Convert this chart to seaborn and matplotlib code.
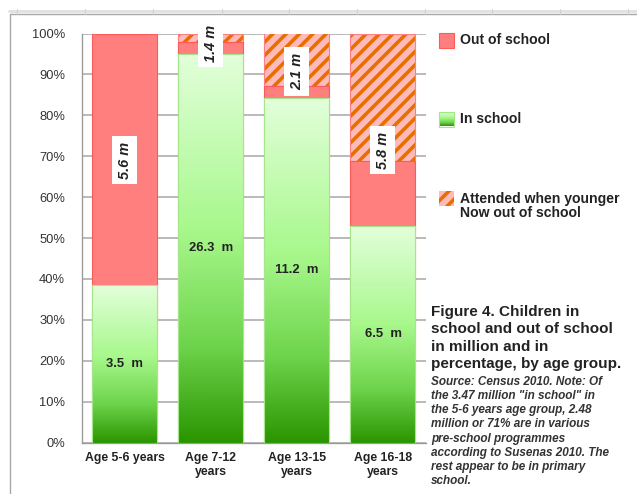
import numpy as np
import pandas as pd
import matplotlib
matplotlib.use("Agg")
import matplotlib.pyplot as plt
from matplotlib.colors import LinearSegmentedColormap
from matplotlib.patches import Rectangle
from matplotlib.lines import Line2D
import seaborn as sns

# ---- data (millions of children) ----
age_groups = ["Age 5-6 years", "Age 7-12\nyears", "Age 13-15\nyears", "Age 16-18\nyears"]
in_school_m = [3.5, 26.3, 11.2, 6.5]
out_of_school_m = [5.6, 1.4, 2.1, 5.8]
# share of the age group (%) that attended when younger and is now out of school
attended_pct = [0.0, 2.2, 12.8, 31.2]
# vertical anchor (%) for the rotated out-of-school labels
out_label_y = [69.0, 97.6, 90.7, 71.5]

y_ticks = [0, 10, 20, 30, 40, 50, 60, 70, 80, 90, 100]
y_tick_labels = [f"{t}%" for t in y_ticks]

legend_labels = ["Out of school", "In school", "Attended when younger\nNow out of school"]
caption_title = "Figure 4. Children in\nschool and out of school\nin million and in\npercentage, by age group."
caption_note = ("Source: Census 2010. Note: Of\nthe 3.47 million \"in school\" in\n"
                "the 5-6 years age group, 2.48\nmillion or 71% are in various\n"
                "pre-school programmes\naccording to Susenas 2010. The\n"
                "rest appear to be in primary\nschool.")

# ---- derived percentages ----
tot = np.array(in_school_m) + np.array(out_of_school_m)
in_pct = np.array(in_school_m) / tot * 100
never_top = 100 - np.array(attended_pct)

df = pd.DataFrame({
    "group": age_groups,
    "in_pct": in_pct,
    "out_top": never_top,
    "total": np.full(len(age_groups), 100.0),
})

DPI = 80
W, H = 637, 494
PT = 72 / DPI  # points per pixel

sns.set_theme(style="white")
plt.rcParams["font.family"] = ["Liberation Sans", "DejaVu Sans"]
plt.rcParams["hatch.linewidth"] = 3.6 * PT

fig = plt.figure(figsize=(W / DPI, H / DPI), dpi=DPI)
ax = fig.add_axes([81.7 / W, 1 - 442.5 / H, (426 - 81.7) / W, (442.5 - 33.5) / H])

RED = "#FF7F7F"
RED_EDGE = "#FF5A5A"
PINK = "#FFBBBB"
ORANGE = "#E86E00"
GREEN_EDGE = "#A6E58C"
BAR_W = 0.756

# attended-when-younger layer (full height, hatched orange on pink)
sns.barplot(data=df, x="group", y="total", ax=ax, color=PINK,
            width=BAR_W, saturation=1, edgecolor=ORANGE, linewidth=0,
            hatch="//", zorder=2)
# never-attended / out of school layer
sns.barplot(data=df, x="group", y="out_top", ax=ax, color=RED,
            width=BAR_W, saturation=1, edgecolor=RED_EDGE, linewidth=1.0,
            zorder=3)
# in-school layer
sns.barplot(data=df, x="group", y="in_pct", ax=ax, color="#B0F895",
            width=BAR_W, saturation=1, edgecolor=GREEN_EDGE, linewidth=1.0,
            zorder=4)

# pink outline around the hatched segment of each bar
for p_tot, p_red in zip(ax.containers[0], ax.containers[1]):
    x0, w = p_tot.get_x(), p_tot.get_width()
    y_lo = p_red.get_height()
    y_hi = p_tot.get_height()
    if y_hi - y_lo > 0:
        ax.add_patch(Rectangle((x0, y_lo), w, y_hi - y_lo, facecolor="none",
                               edgecolor=RED, linewidth=1.0, zorder=2.5))

# vertical gradient fill inside each in-school bar
green_cmap = LinearSegmentedColormap.from_list(
    "greens", [(0.0, "#E2FFDA"), (0.45, "#A8F88C"), (0.75, "#6ED44C"), (1.0, "#2A9500")])
grad = np.linspace(0, 1, 256).reshape(-1, 1)
for p in ax.containers[2]:
    x0, y0 = p.get_x(), p.get_y()
    w, h = p.get_width(), p.get_height()
    ax.imshow(grad, cmap=green_cmap, aspect="auto", origin="upper",
              extent=[x0, x0 + w, y0, y0 + h], zorder=4, interpolation="bilinear")
    p.set_facecolor("none")
    p.set_zorder(5)

ax.set_xlim(-0.5, len(age_groups) - 0.5)
ax.set_ylim(0, 100)
ax.set_yticks(y_ticks)
ax.set_yticklabels(y_tick_labels)
ax.set_xlabel("")
ax.set_ylabel("")
ax.set_xticks([i - 0.5 for i in range(len(age_groups) + 1)], minor=False)
ax.set_xticklabels([])
ax.set_xticks(range(len(age_groups)), minor=True)
ax.set_xticklabels(age_groups, minor=True, fontweight="bold",
                   fontsize=12.3 * PT, color="#222222", linespacing=1.2)
ax.tick_params(axis="x", which="minor", length=0, pad=9)
ax.tick_params(axis="x", which="major", length=5, width=1, color="#999999", direction="out")
ax.tick_params(axis="y", length=5, width=1, color="#999999", direction="out",
               labelsize=12.9 * PT, labelcolor="#333333", pad=10)

ax.yaxis.grid(True, color="#B4B4B4", linewidth=1.5 * PT * 1.2, zorder=0)
ax.set_axisbelow(True)
for s in ["top", "right"]:
    ax.spines[s].set_visible(False)
for s in ["left", "bottom"]:
    ax.spines[s].set_color("#999999")
    ax.spines[s].set_linewidth(1.2)

# value labels
for i in range(len(age_groups)):
    ax.text(i, in_pct[i] / 2, f"{in_school_m[i]}  m", ha="center", va="center",
            fontsize=13.0 * PT, fontweight="bold", color="#222222", zorder=6)
    ax.text(i, out_label_y[i], f"{out_of_school_m[i]} m", ha="center", va="center",
            rotation=90, fontsize=14.5 * PT, fontweight="bold", fontstyle="italic",
            color="#222222", zorder=7, clip_on=False,
            bbox=dict(boxstyle="square,pad=0.38", facecolor="white", edgecolor="none"))

# ---- legend ----
def fx(px):
    return px / W

def fy(py):
    return 1 - py / H

sw, sh = 15 / W, 15 / H
leg_y = [40, 119, 198]
fig.patches.append(Rectangle((fx(438.5), fy(leg_y[0] + 7.5)), sw, sh, transform=fig.transFigure,
                             facecolor=RED, edgecolor=RED_EDGE, linewidth=1.0))
# gradient swatch for in-school
leg_ax = fig.add_axes([fx(438.5), fy(leg_y[1] + 7.5), sw, sh])
leg_ax.imshow(grad, cmap=green_cmap, aspect="auto", origin="upper", extent=[0, 1, 0, 1])
leg_ax.set_axis_off()
fig.patches.append(Rectangle((fx(438.5), fy(leg_y[1] + 7.5)), sw, sh, transform=fig.transFigure,
                             facecolor="none", edgecolor=GREEN_EDGE, linewidth=1.0))
fig.patches.append(Rectangle((fx(438.5), fy(leg_y[2] + 7.5)), sw, sh, transform=fig.transFigure,
                             facecolor=PINK, edgecolor=ORANGE, linewidth=0, hatch="//"))
leg_text_y = [40, 119, 206]
for ty, lab in zip(leg_text_y, legend_labels):
    fig.text(fx(460), fy(ty), lab, ha="left", va="center", fontsize=14 * PT,
             fontweight="bold", color="#222222", linespacing=1.0)

# ---- caption ----
fig.text(fx(431), fy(305), caption_title, ha="left", va="top", fontsize=15.2 * PT,
         fontweight="bold", color="#222222", linespacing=1.3)
fig.text(fx(431), fy(376), caption_note, ha="left", va="top", fontsize=11.8 * PT,
         fontweight="bold", fontstyle="italic", color="#333333", linespacing=1.24)

# ---- page frame ----
fig.add_artist(Line2D([fx(9), 1], [fy(10.5), fy(10.5)], transform=fig.transFigure,
                      color="#E2E2E2", linewidth=3 * PT))
fig.add_artist(Line2D([fx(10), 1], [fy(14.3), fy(14.3)], transform=fig.transFigure,
                      color="#A8A8A8", linewidth=1.4 * PT))
fig.add_artist(Line2D([fx(10), fx(10)], [fy(14.3), 0], transform=fig.transFigure,
                      color="#A8A8A8", linewidth=1.4 * PT))
for vx in [16.7, 85, 153, 221.7, 289.3, 356.7, 425, 491.7, 560, 628]:
    fig.add_artist(Line2D([fx(vx), fx(vx)], [fy(9), fy(13.5)], transform=fig.transFigure,
                          color="#D0D0D0", linewidth=1 * PT))

fig.savefig("out.png", dpi=DPI)
